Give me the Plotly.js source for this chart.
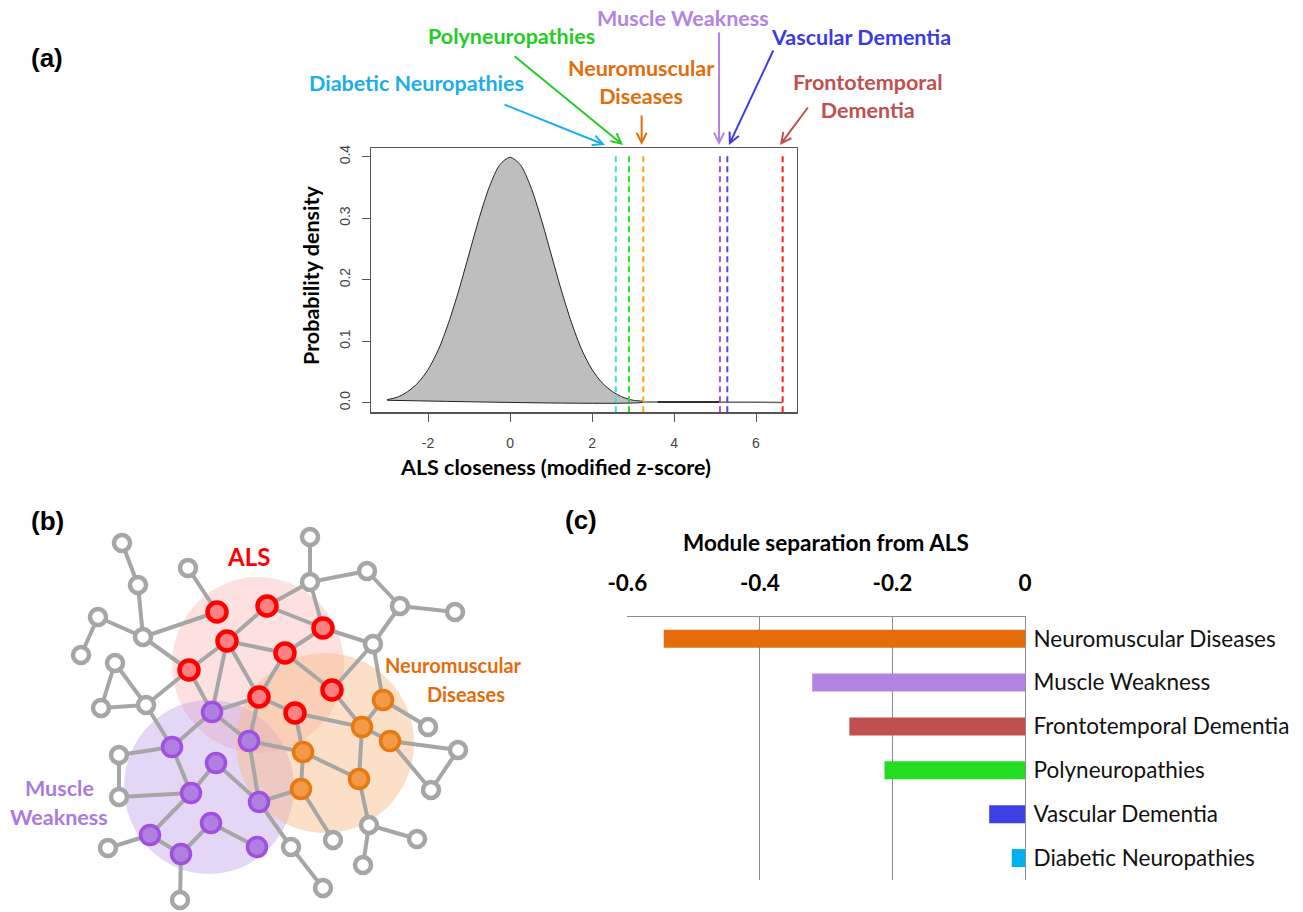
<!DOCTYPE html>
<html><head><meta charset="utf-8">
<script src="https://cdn.plot.ly/plotly-3.0.1.min.js"></script>
<style>html,body{margin:0;padding:0;background:#fff}#chart{width:1303px;height:912px}</style>
</head><body><div id="chart"></div>
<script>
// ---------- Panel (a): null distribution of ALS closeness ----------
const densX = [-3.0,-2.75,-2.5,-2.25,-2.0,-1.75,-1.5,-1.25,-1.0,-0.75,-0.5,-0.25,0,0.25,0.5,0.75,1.0,1.25,1.5,1.75,2.0,2.25,2.5,2.75,3.0,3.25];
const densY = [0.005,0.009,0.018,0.032,0.054,0.086,0.130,0.183,0.242,0.301,0.352,0.387,0.399,0.387,0.352,0.301,0.242,0.183,0.130,0.086,0.054,0.032,0.018,0.009,0.004,0.002];
const baseX = [3.25,-3.0];
const baseY = [0.001,0.004];
const tailX = [3.25,6.65];
const tailY = [0.001,0.0005];
const tailDarkX = [3.6,5.1];
const tailDarkY = [0.0012,0.0012];
const zTickVals = [-2,0,2,4,6];
const zTickText = ['-2','0','2','4','6'];

const diseaseNames = ['Diabetic Neuropathies','Polyneuropathies','Neuromuscular Diseases','Muscle Weakness','Vascular Dementia','Frontotemporal Dementia'];
const closenessZ = [2.58,2.90,3.25,5.12,5.30,6.65];
const lineColors = ['#40E0D0','#22E022','#FFA020','#A050E8','#4848F0','#FF1A1A'];
const labelColors = ['#1AADEF','#22CC22','#E46C0A','#B383E3','#3A3AE6','#C0504D'];

// ---------- Panel (c): module separation ----------
const sepCategories = ['Neuromuscular Diseases','Muscle Weakness','Frontotemporal Dementia','Polyneuropathies','Vascular Dementia','Diabetic Neuropathies'];
const sepValues = [-0.545,-0.321,-0.265,-0.212,-0.054,-0.020];
const sepColors = ['#E46C0A','#B383E3','#C0504D','#22DD22','#3F3FE6','#00B0F0'];
const sepTickVals = [-0.6,-0.4,-0.2,0];
const sepTickText = ['-0.6','-0.4','-0.2','0'];

// ---------- Panel (b): schematic network ----------
const nodeX = [122,138,188,98,143,81,115,101,146,310,310,367,400,455,373,428,458,431,119,119,108,291,323,333,369,417,363,180,
               217,267,323,227,285,189,332,259,295,
               383,362,390,303,359,301,
               212,172,249,216,191,259,150,211,181,257];
const nodeY = [543,585,568,617,637,655,663,708,705,537,582,571,606,612,644,727,750,790,755,797,848,847,888,840,825,839,865,900,
               612,606,628,641,653,670,690,697,713,
               700,727,741,752,779,789,
               712,747,741,763,793,802,835,823,854,847];
const nodeGroup = [].concat(Array(28).fill('other'),Array(9).fill('ALS'),Array(6).fill('Neuromuscular Diseases'),Array(10).fill('Muscle Weakness'));
const edgeFrom = [0,1,3,3,4,4,2,31,31,31,31,31,29,29,30,10,10,10,30,11,12,12,14,14,32,32,35,33,33,6,6,7,8,43,43,43,44,44,47,47,47,46,45,45,48,48,21,49,49,50,50,51,35,36,36,40,40,42,38,38,38,38,37,39,39,16,41,24,24,18];
const edgeTo   = [1,4,4,5,28,33,28,29,33,32,43,35,10,30,32,9,11,30,14,12,13,14,34,37,34,35,45,8,43,7,8,8,44,35,44,45,18,47,19,46,49,48,40,48,42,21,22,20,51,51,52,27,36,40,38,41,42,23,34,37,39,41,15,16,17,17,24,25,26,19];

const traces = [];
traces.push({type:'scatter',mode:'lines',x:densX.concat(baseX),y:densY.concat(baseY),fill:'toself',fillcolor:'#BEBEBE',
  line:{color:'#222',width:1,shape:'spline',smoothing:0.8},xaxis:'x',yaxis:'y',hoverinfo:'skip'});
traces.push({type:'scatter',mode:'lines',x:tailX,y:tailY,line:{color:'#666',width:1.5},xaxis:'x',yaxis:'y',hoverinfo:'skip'});
traces.push({type:'scatter',mode:'lines',x:tailDarkX,y:tailDarkY,line:{color:'#111',width:1.5},xaxis:'x',yaxis:'y',hoverinfo:'skip'});
closenessZ.forEach((v,i)=>{
  traces.push({type:'scatter',mode:'lines',x:[v,v],y:[-0.0156,0.407],line:{color:lineColors[i],width:2,dash:'6px,4px'},
    xaxis:'x',yaxis:'y',name:diseaseNames[i],hoverinfo:'name'});
});
traces.push({type:'bar',orientation:'h',x:sepValues,y:sepCategories,marker:{color:sepColors},width:0.41,xaxis:'x2',yaxis:'y2',hoverinfo:'x+y'});
const ex=[],ey=[];
edgeFrom.forEach((a,i)=>{const b=edgeTo[i];ex.push(nodeX[a],nodeX[b],null);ey.push(nodeY[a],nodeY[b],null);});
traces.push({type:'scatter',mode:'lines',x:ex,y:ey,line:{color:'#A6A6A6',width:4},xaxis:'x3',yaxis:'y3',hoverinfo:'skip'});
const groupStyle = {
  'other':{size:16,color:'#FFFFFF',line:'#A6A6A6',lw:4.5},
  'ALS':{size:19,color:'#FF8080',line:'#FF0000',lw:4.5},
  'Neuromuscular Diseases':{size:19,color:'#F29A48',line:'#E8780F',lw:3.5},
  'Muscle Weakness':{size:19,color:'#B080E0',line:'#A050E0',lw:3.5}
};
Object.keys(groupStyle).forEach(g=>{
  const xs=[],ys=[];
  nodeGroup.forEach((gg,i)=>{if(gg===g){xs.push(nodeX[i]);ys.push(nodeY[i]);}});
  const s=groupStyle[g];
  traces.push({type:'scatter',mode:'markers',x:xs,y:ys,name:g,marker:{size:s.size,color:s.color,line:{color:s.line,width:s.lw}},
    xaxis:'x3',yaxis:'y3',hoverinfo:'name'});
});

const W=1303,H=912;
const px = v=>v/W, py = v=>1-v/H;
const calib = 'Lato, "Open Sans", sans-serif';
const arial = '"Liberation Sans", Arial, sans-serif';

const annotations = [];
function lab(text,x,y,size,color,extra){annotations.push(Object.assign({text:text,x:px(x),y:py(y),xref:'paper',yref:'paper',showarrow:false,
  xanchor:'center',yanchor:'middle',font:{family:calib,size:size,color:color}},extra||{}));}
annotations.push({text:'<b>(a)</b>',x:px(29),y:py(41),xref:'paper',yref:'paper',showarrow:false,font:{family:arial,size:26,color:'#000'}});
annotations.push({text:'<b>(b)</b>',x:px(29),y:py(521),xref:'paper',yref:'paper',showarrow:false,font:{family:arial,size:26,color:'#000'}});
annotations.push({text:'<b>(c)</b>',x:px(581),y:py(520),xref:'paper',yref:'paper',showarrow:false,font:{family:arial,size:26,color:'#000'}});
lab('<b>Probability density</b>',311,275,21.5,'#000',{textangle:-90});
lab('<b>ALS closeness (modified z-score)</b>',555,467,21.5,'#000');
lab('<b>Diabetic Neuropathies</b>',416,83,21.5,labelColors[0]);
lab('<b>Polyneuropathies</b>',511,36,21.5,labelColors[1]);
lab('<b>Neuromuscular<br>Diseases</b>',641,82,21.5,labelColors[2]);
lab('<b>Muscle Weakness</b>',683,18,21.5,labelColors[3]);
lab('<b>Vascular Dementia</b>',861,37,21.5,labelColors[4]);
lab('<b>Frontotemporal<br>Dementia</b>',868,96,21.5,labelColors[5]);
const arrowOff = [[-102,-41],[-110,-90],[0,-31],[0,-114],[45,-96],[29,-39]];
const arrowHeadX = [2.317,2.756,3.21,5.098,5.34,6.585];
arrowHeadX.forEach((hx,i)=>{
  annotations.push({text:'',x:hx,y:py(145),xref:'x',yref:'paper',showarrow:true,ax:arrowOff[i][0],ay:arrowOff[i][1],
    axref:'pixel',ayref:'pixel',arrowhead:5,arrowsize:1,arrowwidth:2,arrowcolor:labelColors[i],standoff:0});
});
lab('<b>ALS</b>',248,556,24,'#FF0000');
lab('<b>Neuromuscular</b>',453,665,20,'#E46C0A');
lab('<b>Diseases</b>',466,694,20,'#E46C0A');
lab('<b>Muscle</b>',59,788,21.5,'#A97BE2');
lab('<b>Weakness</b>',59,817,21.5,'#A97BE2');
lab('<b>Module separation from ALS</b>',826,542,22.5,'#000');

const shapes = [
  {type:'circle',xref:'x3',yref:'y3',x0:258-86,x1:258+86,y0:665-88,y1:665+88,fillcolor:'rgba(250,180,180,0.42)',line:{width:0},layer:'below'},
  {type:'circle',xref:'x3',yref:'y3',x0:209-85,x1:209+85,y0:787-87,y1:787+87,fillcolor:'rgba(190,160,230,0.42)',line:{width:0},layer:'below'},
  {type:'circle',xref:'x3',yref:'y3',x0:325-89,x1:325+89,y0:743-90,y1:743+90,fillcolor:'rgba(248,185,130,0.45)',line:{width:0},layer:'below'}
];

const layout = {
  width:W,height:H,margin:{l:0,r:0,t:0,b:0},paper_bgcolor:'#fff',plot_bgcolor:'rgba(0,0,0,0)',showlegend:false,
  xaxis:{domain:[px(370.7),px(797)],range:[-3.4,7.0],anchor:'y',tickvals:zTickVals,ticktext:zTickText,ticks:'outside',ticklen:8,tickcolor:'#555',
    ticklabelstandoff:10,tickfont:{family:arial,size:14,color:'#444'},showline:true,linecolor:'#555',linewidth:1.2,mirror:true,showgrid:false,zeroline:false},
  yaxis:{domain:[1-412.3/H,1-148.3/H],range:[-0.0156,0.4137],anchor:'x',tickvals:[0,0.1,0.2,0.3,0.4],ticktext:['0.0','0.1','0.2','0.3','0.4'],
    tickangle:-90,ticks:'outside',ticklen:8,tickcolor:'#555',ticklabelstandoff:6,tickfont:{family:arial,size:14,color:'#444'},showline:true,linecolor:'#555',linewidth:1.2,
    mirror:true,showgrid:false,zeroline:false},
  xaxis2:{domain:[px(627.3),px(1025)],range:[-0.6,0],anchor:'y2',side:'top',tickvals:sepTickVals,ticktext:sepTickText,ticks:'',
    ticklabelstandoff:16,tickfont:{family:calib,size:22.5,color:'#000',weight:'bold'},showgrid:true,gridcolor:'#8C8C8C',gridwidth:1,
    showline:true,linecolor:'#8C8C8C',linewidth:1,zeroline:false},
  yaxis2:{domain:[1-880/H,1-616.7/H],anchor:'x2',type:'category',autorange:'reversed',side:'right',ticks:'',ticklabelstandoff:3,
    tickfont:{family:calib,size:22.5,color:'#111'},showline:true,linecolor:'#8C8C8C',linewidth:1,showgrid:false,zeroline:false},
  xaxis3:{domain:[0,px(480)],range:[0,480],anchor:'y3',visible:false},
  yaxis3:{domain:[0,1-500/H],range:[912,500],anchor:'x3',visible:false},
  annotations:annotations,shapes:shapes
};
Plotly.newPlot('chart',traces,layout,{displayModeBar:false,staticPlot:true});
</script></body></html>
